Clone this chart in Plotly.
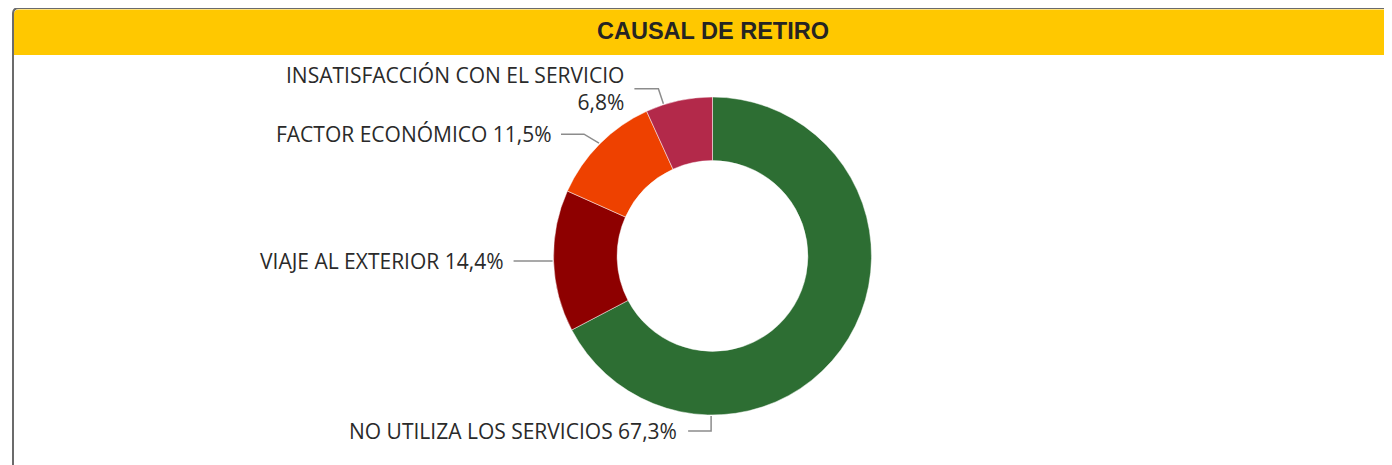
import math
import plotly.graph_objects as go

# ---- data ----
categories = ["NO UTILIZA LOS SERVICIOS", "VIAJE AL EXTERIOR", "FACTOR ECONÓMICO",
              "INSATISFACCIÓN CON EL SERVICIO"]
values = [67.3, 14.4, 11.5, 6.8]
label_texts = ["NO UTILIZA LOS SERVICIOS 67,3%", "VIAJE AL EXTERIOR 14,4%",
               "FACTOR ECONÓMICO 11,5%", "INSATISFACCIÓN CON EL SERVICIO<br>6,8%"]
title_text = "CAUSAL DE RETIRO"

# ---- style / layout ----
colors = ["#2D6E33", "#8E0000", "#EE4100", "#B3294A"]
OFF = 8  # page body margin
W, H = 1392 - OFF, 465 - OFF
CX, CY, R = 712.5, 256.0, 159.0
HOLE = 0.6
leader = [
    dict(frac=0.745, elbow=(0, 15), hlen=23, gap=9),
    dict(frac=0.5, elbow=(0, 0), hlen=39, gap=8),
    dict(frac=0.5, elbow=(-15, -9), hlen=23, gap=7),
    dict(frac=0.27, elbow=(-5, -15), hlen=24, gap=8),
]


def px(x):
    return (x - OFF) / W


def py(y):
    return 1 - (y - OFF) / H


fig = go.Figure()
fig.add_trace(go.Pie(
    labels=categories, values=values, sort=False, direction="clockwise", rotation=0,
    hole=HOLE, textinfo="none", hoverinfo="label+percent",
    marker=dict(colors=colors, line=dict(color="rgba(255,255,255,0.6)", width=0.8)),
    domain=dict(x=[px(CX - R), px(CX + R)], y=[py(CY + R), py(CY - R)]),
    showlegend=False,
))

shapes = []
annotations = []

shapes.append(dict(type="path", xref="paper", yref="paper",
                   path=f"M {px(14)},{py(55)} L {px(14)},{py(14)} Q {px(14)},{py(9.5)} {px(19)},{py(9.5)} "
                        f"L {px(1400)},{py(9.5)} L {px(1400)},{py(55)} Z",
                   fillcolor="#FFC800", line=dict(width=0), layer="below"))
shapes.append(dict(type="path", xref="paper", yref="paper",
                   path=f"M {px(13)},{py(470)} L {px(13)},{py(14)} Q {px(13)},{py(8)} {px(19)},{py(8)} L {px(1400)},{py(8)}",
                   line=dict(color="#6B6B6B", width=2)))

annotations.append(dict(text=f"<b>{title_text}</b>", xref="paper", yref="paper",
                        x=px(713), y=py(31), xanchor="center", yanchor="middle", showarrow=False,
                        font=dict(family="Liberation Sans, Arial", size=23.5, color="#252423")))

total = sum(values)
cum = 0.0
for i, v in enumerate(values):
    start = cum / total * 360
    end = (cum + v) / total * 360
    cum += v
    L = leader[i]
    ang = math.radians(start + (end - start) * L["frac"])
    ax = CX + (R + 1) * math.sin(ang)
    ay = CY - (R + 1) * math.cos(ang)
    ex, ey = ax + L["elbow"][0], ay + L["elbow"][1]
    hx = ex - L["hlen"]
    shapes.append(dict(type="path", xref="paper", yref="paper",
                       path=f"M {px(ax)},{py(ay)} L {px(ex)},{py(ey)} L {px(hx)},{py(ey)}",
                       line=dict(color="#8C8C8C", width=1.5)))
    annotations.append(dict(text=label_texts[i], xref="paper", yref="paper",
                            x=px(hx - L["gap"]), y=py(ey), xanchor="right", yanchor="middle",
                            align="right", showarrow=False,
                            font=dict(family="Open Sans", size=21, color="#2A2A2A")))

fig.update_layout(width=W, height=H, margin=dict(l=0, r=0, t=0, b=0),
                  paper_bgcolor="white", plot_bgcolor="white",
                  shapes=shapes, annotations=annotations)
fig.write_html("out.html")
